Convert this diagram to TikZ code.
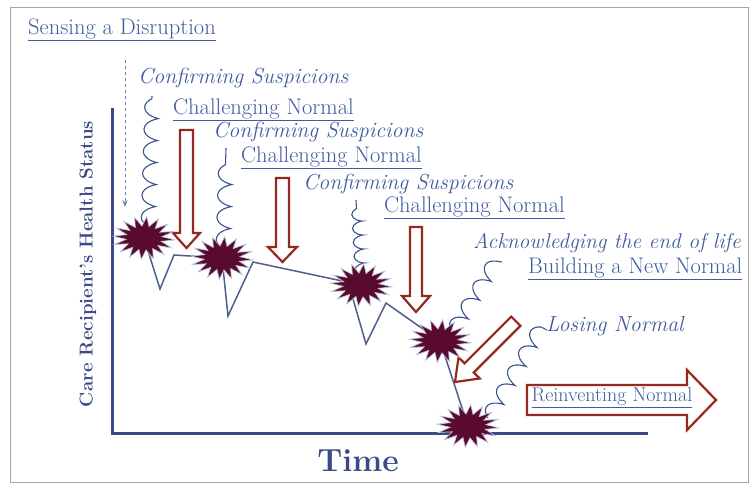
\documentclass[tikz,border=0pt]{standalone}
\usetikzlibrary{shapes.geometric,arrows.meta,decorations.pathmorphing,calc}
\definecolor{txtblue}{HTML}{3F5C9E}
\definecolor{axisblue}{HTML}{3B4A86}
\definecolor{starred}{HTML}{5A0A2C}
\definecolor{arrred}{HTML}{972820}
\definecolor{hline}{HTML}{4E5E92}
\tikzset{
 lbl/.style={text=txtblue, font=\fontsize{22.5}{26}\selectfont, anchor=west, inner sep=0},
 ilbl/.style={lbl, font=\fontsize{21.8}{26}\selectfont\itshape},
 burstfill/.style={fill=starred, draw=txtblue!35, line width=0.7pt, line join=miter},
 blockarrow/.style={draw=arrred, line width=2.2pt, fill=white, line join=miter},
 squig/.style={draw=txtblue!90!black, line width=1.1pt, decorate, decoration={coil, amplitude=7pt, segment length=22pt, aspect=0.45}},
 healthline/.style={draw=hline, line width=1.5pt, line join=miter},
}
\newcommand\burstat[1]{%
  \path[burstfill, shift={(#1)}] plot[samples=33, domain=0:32, variable=\k]
   ({(18+13*(1-mod(round(\k),2)))*cos(\k*360/32+5)}, {(12+9.5*(1-mod(round(\k),2)))*sin(\k*360/32+5)}) -- cycle;}
\begin{document}
\begin{tikzpicture}[x=1pt,y=-1pt]
\useasboundingbox (0,0) rectangle (754,489);
\draw[gray!70, line width=0.8pt] (10,7) rectangle (748,482);

% axes
\coordinate (ytop) at (112,108);
\coordinate (orig) at (112,433);
\coordinate (xend) at (648,433);
\draw[axisblue, line width=3pt] (ytop) -- (orig) -- (xend);
\node[text=axisblue, font=\fontsize{18.7}{22}\selectfont\bfseries, rotate=90] (ylab) at (88,264) {Care Recipient's Health Status};
\node[text=axisblue, font=\fontsize{32}{36}\selectfont\bfseries] (xlab) at (358,461) {Time};

% dashed arrow
\coordinate (d1) at (125,60);
\coordinate (d2) at (125,207);
\draw[hline!80, dashed, line width=0.8pt, -{Stealth[length=7pt,width=5pt]}] (d1) -- (d2);

% health line
\coordinate (p1) at (144,238);
\coordinate (p2) at (222,258);
\coordinate (p3) at (361,285);
\coordinate (p4) at (440,341);
\coordinate (p5) at (468,426);
\draw[healthline] (p1) -- (160,289) -- (174,255) -- (p2) -- (228,316) -- (253,262) -- (p3);
\draw[healthline] (351,292) -- (366,344) -- (386,303) -- (p4) -- (p5);

% block arrows
\draw[blockarrow] (180,130) -- (193,130) -- (193,233) -- (200,233) -- (186.5,248) -- (173,233) -- (180,233) -- cycle;
\draw[blockarrow] (276,178) -- (289,178) -- (289,247) -- (297,247) -- (282.5,262) -- (268,247) -- (276,247) -- cycle;
\draw[blockarrow] (410,227) -- (422,227) -- (422,296) -- (430,296) -- (416,312) -- (402,296) -- (410,296) -- cycle;
\begin{scope}[shift={(455,382)}, rotate=-135]
\draw[blockarrow] (-86,-6.5) -- (-20,-6.5) -- (-20,-15) -- (0,0) -- (-20,15) -- (-20,6.5) -- (-86,6.5) -- cycle;
\end{scope}
\draw[blockarrow] (527,385) -- (687,385) -- (687,370) -- (716,400) -- (687,430) -- (687,415) -- (527,415) -- cycle;
\node[text=txtblue, font=\fontsize{20}{24}\selectfont, inner sep=0] (reinv) at (612,398) {\underline{Reinventing Normal}};

% squiggles
\draw[squig] (148,226) -- (152,96);
\draw[squig] (223,248) -- (226,148);
\draw[squig, decoration={coil, amplitude=5pt, segment length=14pt, aspect=0.45}] (360,276) -- (356,200);
\draw[squig] (452,332) -- (494,264) -- (502,262);
\draw[squig] (488,418) -- (538,332) -- (547,330);

% stars
\burstat{p1}
\burstat{p2}
\burstat{p3}
\burstat{p4}
\burstat{p5}
\node[inner sep=0, minimum size=40pt] (s1) at (p1) {};
\node[inner sep=0, minimum size=40pt] (s2) at (p2) {};
\node[inner sep=0, minimum size=40pt] (s3) at (p3) {};
\node[inner sep=0, minimum size=40pt] (s4) at (p4) {};
\node[inner sep=0, minimum size=40pt] (s5) at (p5) {};

% labels
\node[lbl] (sense) at (28,30) {\underline{Sensing a Disruption}};
\node[ilbl] (c1) at (138,78) {Confirming Suspicions};
\node[lbl] (n1) at (173,110) {\underline{Challenging Normal}};
\node[ilbl] (c2) at (213,132) {Confirming Suspicions};
\node[lbl] (n2) at (241,158) {\underline{Challenging Normal}};
\node[ilbl] (c3) at (303,184) {Confirming Suspicions};
\node[lbl] (n3) at (384,208) {\underline{Challenging Normal}};
\node[ilbl, font=\fontsize{21.4}{26}\selectfont\itshape] (ack) at (473,243) {Acknowledging the end of life};
\node[lbl] (bnn) at (528,269) {\underline{Building a New Normal}};
\node[ilbl] (lose) at (546,326) {Losing Normal};
\end{tikzpicture}
\end{document}
